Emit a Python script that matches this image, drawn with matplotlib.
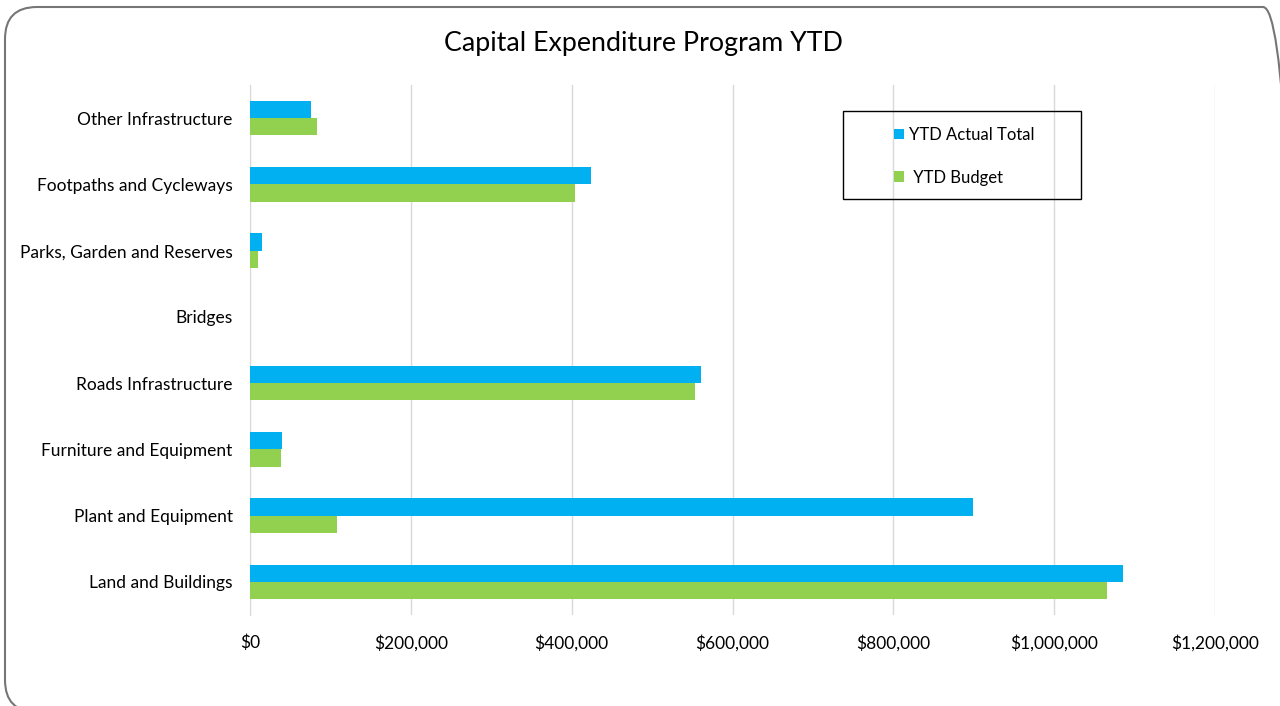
import matplotlib.pyplot as plt
import numpy as np
from matplotlib.patches import FancyBboxPatch, Rectangle
from matplotlib.ticker import FuncFormatter

plt.rcParams['font.family'] = ['Lato', 'DejaVu Sans']

# categories listed bottom to top
categories = ['Land and Buildings', 'Plant and Equipment', 'Furniture and Equipment',
              'Roads Infrastructure', 'Bridges', 'Parks, Garden and Reserves',
              'Footpaths and Cycleways', 'Other Infrastructure']
ytd_actual = [1086000, 898700, 40000, 561000, 0, 15300, 424000, 75500]
ytd_budget = [1065700, 108000, 38500, 553000, 0, 9600, 404000, 83700]

blue = '#00B0F0'
green = '#92D050'

fig = plt.figure(figsize=(12.8, 7.06), dpi=100)
ax = fig.add_axes([250/1280, 1 - 615/706, 965/1280, 530/706])

y = np.arange(len(categories))
h = 0.26
ax.barh(y + h/2, ytd_actual, height=h, color=blue, label='YTD Actual Total', zorder=3)
ax.barh(y - h/2, ytd_budget, height=h, color=green, label=' YTD Budget', zorder=3)

ax.set_xlim(0, 1200000)
ax.set_ylim(-0.5, len(categories) - 0.5)
ax.set_yticks(y)
ax.set_yticklabels(categories, fontsize=12.5)
ax.set_xticks(np.arange(0, 1200001, 200000))
ax.xaxis.set_major_formatter(FuncFormatter(lambda v, p: '${:,.0f}'.format(v)))
ax.tick_params(axis='x', labelsize=12.5, length=0, pad=14)
ax.tick_params(axis='y', length=0, pad=12.5)
ax.grid(axis='x', color='#D9D9D9', linewidth=1, zorder=0)
for s in ['top', 'right', 'bottom']:
    ax.spines[s].set_visible(False)
ax.spines['left'].set_color('#D9D9D9')

fig.text(643/1280, 1 - 43/706, 'Capital Expenditure Program YTD', fontsize=19.3,
         ha='center', va='center')

# legend box
fig.patches.append(Rectangle((843/1280, 1 - 199/706), 238/1280, 88/706,
                             transform=fig.transFigure, fill=False,
                             edgecolor='black', linewidth=1))
fig.legend(loc='upper left', bbox_to_anchor=(879/1280, 1 - 112/706), frameon=False,
           fontsize=12, handlelength=0.6, handleheight=0.6, handletextpad=0.3,
           labelspacing=1.6)

# outer rounded frame
frame = FancyBboxPatch((5/1280, -6/706), 1290/1280, 705/706,
                       boxstyle='round,pad=0,rounding_size=0.025',
                       transform=fig.transFigure, fill=False,
                       edgecolor='#767676', linewidth=1.5,
                       mutation_aspect=1280/706)
frame.set_clip_on(False)
fig.patches.append(frame)

fig.savefig('out.png', dpi=100)
